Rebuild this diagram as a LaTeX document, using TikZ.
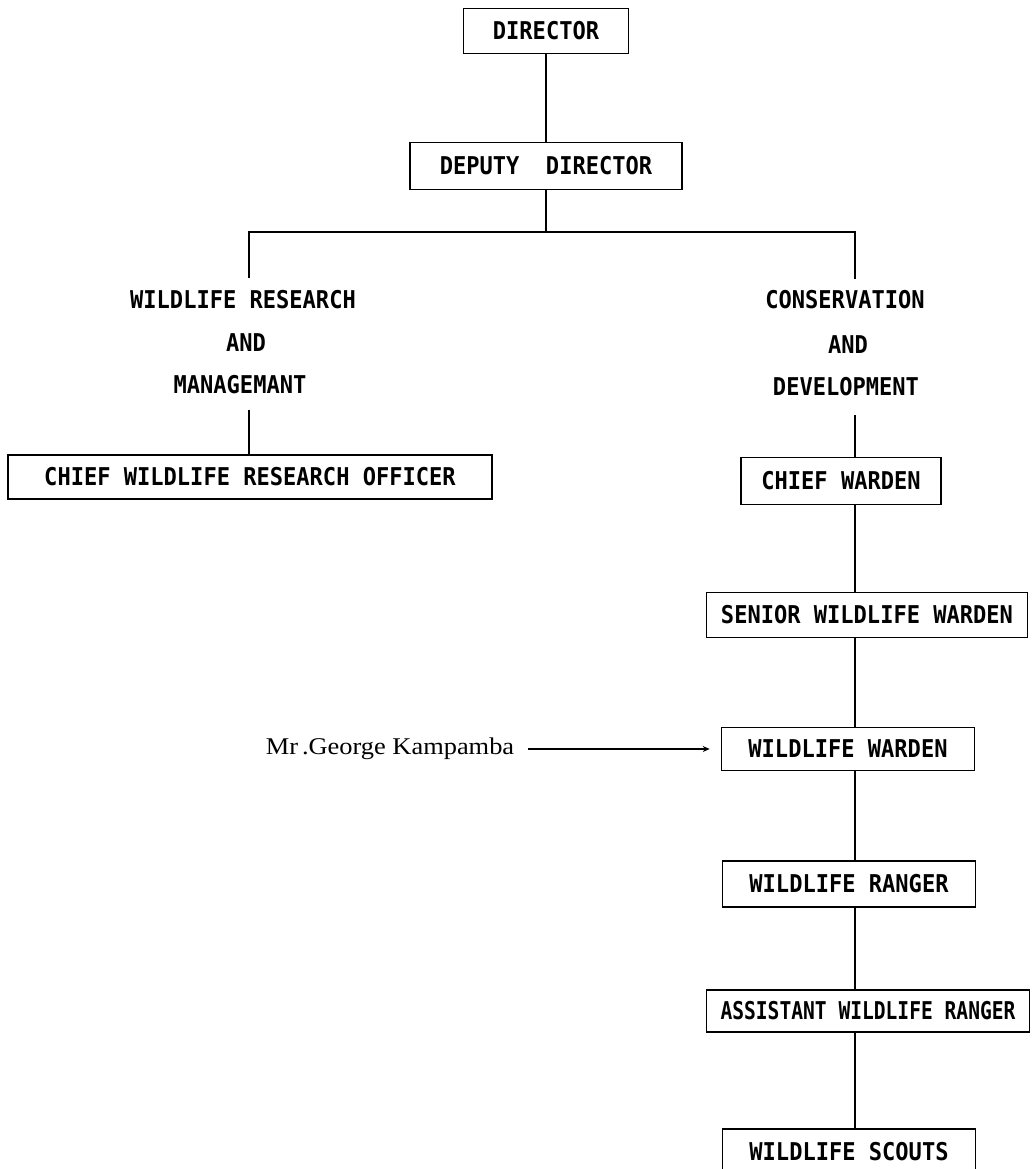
\documentclass[tikz,border=0pt]{standalone}
\usepackage{fontspec}
\newfontfamily\boxfont{DejaVu Sans Mono Bold}[FakeStretch=0.9]
\newfontfamily\boxfontnarrow{DejaVu Sans Mono Bold}[FakeStretch=0.8]
\newfontfamily\namefont{Liberation Serif}[FakeStretch=1.1]
\usetikzlibrary{arrows.meta}

\begin{document}
\begin{tikzpicture}[x=1pt,y=-1pt,
  post/.style={draw, line width=1.6pt, inner sep=0pt,
    font=\boxfont\fontsize{24.5}{26}\selectfont},
  unit/.style={inner sep=0pt, font=\boxfont\fontsize{24.5}{26}\selectfont},
  link/.style={line width=1.9pt},
  pointer/.style={line width=1.1pt, -{Stealth[length=7pt,width=6pt]},
    shorten <=14pt, shorten >=11pt},
]
\useasboundingbox (0,0) rectangle (1034,1169);

% top of the hierarchy
\node[post, minimum width=165, minimum height=45] (dir) at (546,31) {DIRECTOR};
\node[post, minimum width=272, minimum height=47] (dep) at (546,166) {DEPUTY\ \ DIRECTOR};

% branch bar
\coordinate (bar)   at (546,232);
\coordinate (barL)  at (249,232);
\coordinate (barR)  at (855,232);
\coordinate (ldrop) at (249,278);
\coordinate (rdrop) at (855,279);

\draw[link] (dir.south) -- (dep.north);
\draw[link] (dep.south) -- (bar);
\draw[link] (ldrop) -- (barL) -- (barR) -- (rdrop);

% research branch
\node[unit] (wr1) at (243,300) {WILDLIFE RESEARCH};
\node[unit] (wr2) at (246,343) {AND};
\node[unit] (wr3) at (240,385) {MANAGEMANT};
\coordinate (ltop) at (249,410);
\node[post, minimum width=484, minimum height=44] (cwro) at (250,477) {CHIEF WILDLIFE RESEARCH OFFICER};
\draw[link] (ltop) -- (cwro.north -| ltop);

% conservation branch
\node[unit] (cd1) at (845,300) {CONSERVATION};
\node[unit] (cd2) at (848,345) {AND};
\node[unit] (cd3) at (846,387) {DEVELOPMENT};
\coordinate (rs)   at (855,0);
\coordinate (rtop) at (855,415);

\node[post, minimum width=200, minimum height=47] (cw)   at (841,481)  {CHIEF WARDEN};
\node[post, minimum width=321, minimum height=45] (sww)  at (867,615)  {SENIOR WILDLIFE WARDEN};
\node[post, minimum width=253, minimum height=43] (ww)   at (848,749)  {WILDLIFE WARDEN};
\node[post, minimum width=253, minimum height=46] (wr)   at (849,884)  {WILDLIFE RANGER};
\node[post, minimum width=323, minimum height=42,
      font=\boxfontnarrow\fontsize{24.5}{26}\selectfont] (awr) at (868,1011) {ASSISTANT WILDLIFE RANGER};
\node[post, minimum width=253, minimum height=46] (ws)   at (849,1152) {WILDLIFE SCOUTS};

\draw[link] (rtop) -- (cw.north -| rs);
\draw[link] (cw.south -| rs)  -- (sww.north -| rs);
\draw[link] (sww.south -| rs) -- (ww.north -| rs);
\draw[link] (ww.south -| rs)  -- (wr.north -| rs);
\draw[link] (wr.south -| rs)  -- (awr.north -| rs);
\draw[link] (awr.south -| rs) -- (ws.north -| rs);

% named officer
\node[inner sep=0pt, font=\namefont\fontsize{24}{26}\selectfont] (kam) at (390,749) {Mr\,.George Kampamba};
\draw[pointer] (kam.east |- ww.west) -- (ww.west);
\end{tikzpicture}
\end{document}
